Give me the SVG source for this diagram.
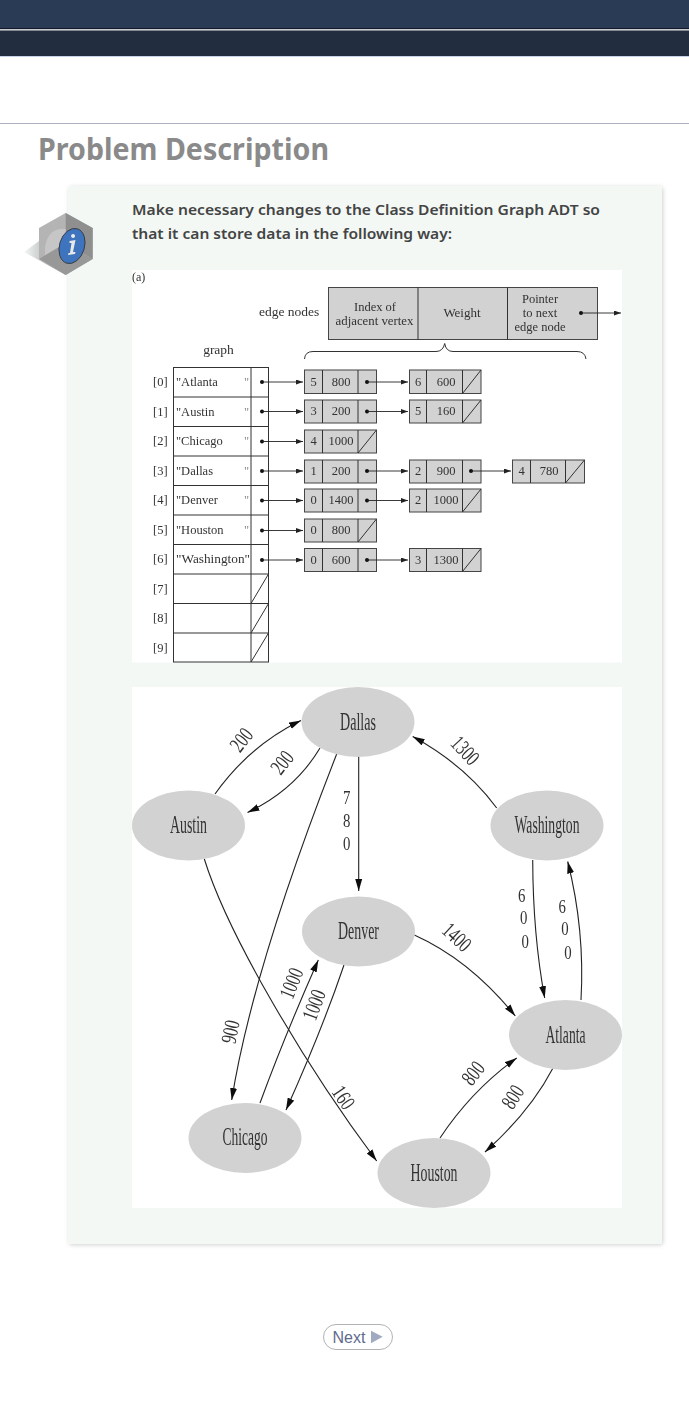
<svg xmlns="http://www.w3.org/2000/svg" width="689" height="1404" viewBox="0 0 689 1404">
<style>
.ser{font-family:"Liberation Serif",serif;fill:#333}
.t{font-size:12.5px}
.c{text-anchor:middle}
.box{fill:#d2d2d2;stroke:#444;stroke-width:1}
.cell{fill:#fff;stroke:#333;stroke-width:1}
.ln{fill:none;stroke:#333;stroke-width:1}
.ptr{fill:none;stroke:#222;stroke-width:.9;marker-end:url(#ah)}
.dot{fill:#111}
.el{fill:#d2d2d2}
.nm{font-size:25px;text-anchor:middle;fill:#333}
.lb{font-size:22px;text-anchor:middle;fill:#333}
.dg{font-size:19.5px;text-anchor:middle;fill:#333}
.e{fill:none;stroke:#222;stroke-width:1.1;marker-end:url(#gh)}
</style>
<defs>
<marker id="ah" markerUnits="userSpaceOnUse" markerWidth="8" markerHeight="6" refX="7" refY="2.5" orient="auto"><path d="M0,0L7,2.5L0,5z" fill="#222"/></marker>
<marker id="gh" markerUnits="userSpaceOnUse" markerWidth="14" markerHeight="10" refX="12" refY="4" orient="auto"><path d="M0,.5L12,4L0,7.500z" fill="#111"/></marker>
<filter id="soft" x="-2%" y="-2%" width="104%" height="104%"><feGaussianBlur stdDeviation="0.35"/></filter>
<filter id="sh" x="-3%" y="-3%" width="106%" height="106%"><feDropShadow dx="1" dy="1" stdDeviation="2" flood-color="#000" flood-opacity=".18"/></filter>
<linearGradient id="hs" x1="0" x2="1" y1="0" y2="0"><stop offset="0" stop-color="#f3f8f5"/><stop offset="1" stop-color="#888"/></linearGradient>
</defs>
<rect width="689" height="1404" fill="#fff"/>
<g id="header">
<rect width="689" height="28" fill="#2a3b55"/>
<rect y="28" width="689" height="1.2" fill="#111a26"/>
<rect y="29.2" width="689" height="1.3" fill="#c9cccf"/>
<rect y="30.5" width="689" height="25.5" fill="#222d40"/>
<rect y="56" width="689" height="1" fill="#c5d3e8"/>
<rect y="123" width="689" height="1" fill="#aab1bf"/>
</g>
<text id="title" x="38" y="160" font-family="'Noto Sans','Open Sans',sans-serif" font-size="31" font-weight="700" fill="#8a8a8a" textLength="291" lengthAdjust="spacingAndGlyphs">Problem Description</text>
<rect id="card" x="68" y="186" width="594" height="1058" rx="3" fill="#f3f8f5" filter="url(#sh)"/>
<g id="info-icon">
<path d="M24,252L39,241V259L65.700,275z" fill="url(#hs)"/>
<path d="M65.700,213L92.700,228V259L65.700,275L39,259V228z" fill="#b4b4b4"/>
<path d="M65.700,213L92.700,228V259L65.700,243z" fill="#8f8f8f"/>
<path d="M39,259L65.700,243L92.700,259L65.700,275z" fill="#989898"/>
<path d="M45,255V248Q47,231 60,229L65.700,229V243z" fill="#c6c6c6"/>
<ellipse cx="72" cy="246" rx="12.500" ry="18" transform="rotate(17 72 246)" fill="#3d74bd" stroke="#333" stroke-width=".8"/>
<path d="M73,234a2,2 0 1 0 .1,0zM69.500,241L75.500,240L73,252L75.500,252L75,254L68,255L68.500,253L70,253L71.500,243L69.500,243z" fill="#e8e8e8"/>
</g>
<g id="prompt" font-family="'Noto Sans','Open Sans',sans-serif" font-size="15" font-weight="600" fill="#444">
<text x="132" y="215" textLength="468" lengthAdjust="spacingAndGlyphs">Make necessary changes to the Class Definition Graph ADT so</text>
<text x="132" y="239" textLength="320" lengthAdjust="spacingAndGlyphs">that it can store data in the following way:</text>
</g>
<rect x="132" y="270" width="490" height="392.500" fill="#fff"/>
<rect x="132" y="687" width="490" height="521" fill="#fff"/>
<g id="figure-a" filter="url(#soft)">
<text class="ser" x="132" y="281" font-size="12">(a)</text>
<text class="ser" x="259" y="316" font-size="13.500">edge nodes</text>
<text class="ser c" x="218.500" y="354" font-size="13.500">graph</text>
<g id="legend">
<rect class="box" x="328.500" y="287.500" width="269" height="52"/>
<path class="ln" d="M418,287.500V339.500M507.500,287.500V339.500"/>
<text class="ser c t" x="375" y="311">Index of</text>
<text class="ser c" font-size="12.800" x="374.500" y="325">adjacent vertex</text>
<text class="ser c" font-size="13" x="462" y="317">Weight</text>
<text class="ser c t" x="540" y="303">Pointer</text>
<text class="ser c t" x="540" y="317">to next</text>
<text class="ser c t" x="540" y="331">edge node</text>
<circle class="dot" cx="581" cy="313" r="2"/>
<path class="ptr" d="M581,313H621"/>
</g>
<path id="brace" class="ln" stroke-width=".8" d="M304.500,359Q305,351.500 313,351.500H436Q443,351.500 444.700,343.500Q446,351.500 453,351.500H577Q585,351.500 586,359"/>
<g id="graph-table">
<rect class="cell" x="173.500" y="367.500" width="95" height="294.500"/>
<path class="ln" d="M251,367.500V662M173.500,397H268.500M173.500,426.500H268.500M173.500,456H268.500M173.500,485.500H268.500M173.500,515H268.500M173.500,544.500H268.500M173.500,574H268.500M173.500,603.500H268.500M173.500,633H268.500M251,603.500L268.500,574M251,633L268.500,603.500M251,662L268.500,633"/>
<g font-size="12.500" class="ser">
<text x="153" y="386">[0]</text><text x="153" y="415.500">[1]</text><text x="153" y="445">[2]</text><text x="153" y="474.500">[3]</text><text x="153" y="504">[4]</text><text x="153" y="533.500">[5]</text><text x="153" y="563">[6]</text><text x="153" y="592.500">[7]</text><text x="153" y="622">[8]</text><text x="153" y="651.500">[9]</text>
<text x="176" y="386">"Atlanta</text><text x="244" y="386" fill="#888">"</text>
<text x="176" y="415.500">"Austin</text><text x="244" y="415.500" fill="#888">"</text>
<text x="176" y="445">"Chicago</text><text x="244" y="445" fill="#888">"</text>
<text x="176" y="474.500">"Dallas</text><text x="244" y="474.500" fill="#888">"</text>
<text x="176" y="504">"Denver</text><text x="244" y="504" fill="#888">"</text>
<text x="176" y="533.500">"Houston</text><text x="244" y="533.500" fill="#888">"</text>
<text x="176" y="563" textLength="74" lengthAdjust="spacingAndGlyphs">"Washington"</text>
</g>
</g>
<g id="edge-list-0">
<rect class="box" x="304.500" y="370" width="72" height="23.500"/><path class="ln" d="M322.500,370V393.500M358,370V393.500"/>
<text class="ser c t" x="313.500" y="385.500">5</text><text class="ser c t" x="341" y="385.500">800</text>
<rect class="box" x="409.500" y="370" width="71.500" height="23.500"/><path class="ln" d="M426.500,370V393.500M462.500,370V393.500M462.500,393.500L481,370"/>
<text class="ser c t" x="418" y="385.500">6</text><text class="ser c t" x="446" y="385.500">600</text>
</g>
<g id="edge-list-1">
<rect class="box" x="304.500" y="400" width="72" height="23"/><path class="ln" d="M322.500,400V423M358,400V423"/>
<text class="ser c t" x="313.500" y="415">3</text><text class="ser c t" x="341" y="415">200</text>
<rect class="box" x="409.500" y="400" width="71.500" height="23"/><path class="ln" d="M426.500,400V423M462.500,400V423M462.500,423L481,400"/>
<text class="ser c t" x="418" y="415">5</text><text class="ser c t" x="446" y="415">160</text>
</g>
<g id="edge-list-2">
<rect class="box" x="304.500" y="430" width="72" height="23"/><path class="ln" d="M322.500,430V453M358,430V453M358,453L376.500,430"/>
<text class="ser c t" x="313.500" y="445">4</text><text class="ser c t" x="341" y="445">1000</text>
</g>
<g id="edge-list-3">
<rect class="box" x="304.500" y="460" width="72" height="23"/><path class="ln" d="M322.500,460V483M358,460V483"/>
<text class="ser c t" x="313.500" y="475">1</text><text class="ser c t" x="341" y="475">200</text>
<rect class="box" x="409.500" y="460" width="71.500" height="23"/><path class="ln" d="M426.500,460V483M462.500,460V483"/>
<text class="ser c t" x="418" y="475">2</text><text class="ser c t" x="446" y="475">900</text>
<rect class="box" x="512.500" y="460" width="72" height="23"/><path class="ln" d="M530.500,460V483M565.500,460V483M565.500,483L584.500,460"/>
<text class="ser c t" x="521.500" y="475">4</text><text class="ser c t" x="549" y="475">780</text>
</g>
<g id="edge-list-4">
<rect class="box" x="304.500" y="489" width="72" height="23"/><path class="ln" d="M322.500,489V512M358,489V512"/>
<text class="ser c t" x="313.500" y="504">0</text><text class="ser c t" x="341" y="504">1400</text>
<rect class="box" x="409.500" y="489" width="71.500" height="23"/><path class="ln" d="M426.500,489V512M462.500,489V512M462.500,512L481,489"/>
<text class="ser c t" x="418" y="504">2</text><text class="ser c t" x="446" y="504">1000</text>
</g>
<g id="edge-list-5">
<rect class="box" x="304.500" y="519" width="72" height="23"/><path class="ln" d="M322.500,519V542M358,519V542M358,542L376.500,519"/>
<text class="ser c t" x="313.500" y="534">0</text><text class="ser c t" x="341" y="534">800</text>
</g>
<g id="edge-list-6">
<rect class="box" x="304.500" y="548.500" width="72" height="23"/><path class="ln" d="M322.500,548.500V571.500M358,548.500V571.500"/>
<text class="ser c t" x="313.500" y="563.500">0</text><text class="ser c t" x="341" y="563.500">600</text>
<rect class="box" x="409.500" y="548.500" width="71.500" height="23"/><path class="ln" d="M426.500,548.500V571.500M462.500,548.500V571.500M462.500,571.500L481,548.500"/>
<text class="ser c t" x="418" y="563.500">3</text><text class="ser c t" x="446" y="563.500">1300</text>
</g>
<g id="pointers">
<g class="dot"><circle cx="262" cy="382" r="2"/><circle cx="262" cy="411.500" r="2"/><circle cx="262" cy="441.500" r="2"/><circle cx="262" cy="471" r="2"/><circle cx="262" cy="500.500" r="2"/><circle cx="262" cy="530.500" r="2"/><circle cx="262" cy="560" r="2"/>
<circle cx="367" cy="382" r="2"/><circle cx="367" cy="411.500" r="2"/><circle cx="367" cy="471" r="2"/><circle cx="367" cy="500.500" r="2"/><circle cx="367" cy="560" r="2"/><circle cx="471" cy="471" r="2"/></g>
<path class="ptr" d="M262,382H303"/><path class="ptr" d="M262,411.500H303"/><path class="ptr" d="M262,441.500H303"/><path class="ptr" d="M262,471H303"/><path class="ptr" d="M262,500.500H303"/><path class="ptr" d="M262,530.500H303"/><path class="ptr" d="M262,560H303"/>
<path class="ptr" d="M367,382H408"/><path class="ptr" d="M367,411.500H408"/><path class="ptr" d="M367,471H408"/><path class="ptr" d="M367,500.500H408"/><path class="ptr" d="M367,560H408"/><path class="ptr" d="M471,471H511"/>
</g>
</g>
<g id="figure-b" filter="url(#soft)">
<g id="connectors">
<path class="e" d="M215,794Q250,745 301,720.500"/>
<path class="e" d="M320,748Q295,790 247.500,812.500"/>
<path class="e" d="M336.700,754C305,835 250,985 231.700,1100"/>
<path class="e" d="M204.300,859C228,935 305,1065 376.700,1161"/>
<path class="e" d="M358.700,756V891"/>
<path class="e" d="M496.700,808Q465,765 412.700,736.500"/>
<path class="e" d="M532.700,860Q533,935 544.700,998"/>
<path class="e" d="M581,1000Q585,930 567.700,861.500"/>
<path class="e" d="M414.300,935Q470,960 515.300,1016"/>
<path class="e" d="M260,1103Q285,1035 318.300,960"/>
<path class="e" d="M344,965Q322,1030 286,1110"/>
<path class="e" d="M440,1138Q472,1090 516.700,1058"/>
<path class="e" d="M553,1068Q530,1112 485,1152"/>
</g>
<g id="node-dallas"><ellipse class="el" cx="358" cy="722" rx="56.500" ry="35"/><text class="ser nm" x="358" y="730" textLength="36" lengthAdjust="spacingAndGlyphs">Dallas</text></g>
<g id="node-austin"><ellipse class="el" cx="188.500" cy="825.500" rx="56.500" ry="35"/><text class="ser nm" x="188.500" y="833" textLength="37" lengthAdjust="spacingAndGlyphs">Austin</text></g>
<g id="node-washington"><ellipse class="el" cx="547" cy="825.500" rx="56.500" ry="35"/><text class="ser nm" x="547" y="833" textLength="65" lengthAdjust="spacingAndGlyphs">Washington</text></g>
<g id="node-denver"><ellipse class="el" cx="358.500" cy="931.500" rx="56.500" ry="35"/><text class="ser nm" x="358.500" y="939" textLength="41" lengthAdjust="spacingAndGlyphs">Denver</text></g>
<g id="node-atlanta"><ellipse class="el" cx="565.500" cy="1035" rx="56.500" ry="35"/><text class="ser nm" x="565.500" y="1043" textLength="40" lengthAdjust="spacingAndGlyphs">Atlanta</text></g>
<g id="node-chicago"><ellipse class="el" cx="245" cy="1138" rx="56.500" ry="35"/><text class="ser nm" x="245" y="1145" textLength="45" lengthAdjust="spacingAndGlyphs">Chicago</text></g>
<g id="node-houston"><ellipse class="el" cx="434" cy="1173" rx="56.500" ry="35"/><text class="ser nm" x="434" y="1181" textLength="47" lengthAdjust="spacingAndGlyphs">Houston</text></g>
<g id="edge-labels" class="ser">
<text class="lb" transform="translate(241.700 740) rotate(-52) scale(.7 1)" y="7">200</text>
<text class="lb" transform="translate(282.300 762.700) rotate(-52) scale(.7 1)" y="7">200</text>
<text class="dg" transform="translate(346.700 804.300) scale(.76 1)"><tspan x="0" y="0">7</tspan><tspan x="0" y="23">8</tspan><tspan x="0" y="46">0</tspan></text>
<text class="lb" transform="translate(465 750.700) rotate(47) scale(.7 1)" y="7">1300</text>
<text class="lb" transform="translate(456.700 937.300) rotate(43) scale(.7 1)" y="7">1400</text>
<text class="dg" transform="translate(521.700 901.600) scale(.76 1)"><tspan x="0" y="0">6</tspan><tspan x="2.600" y="22">0</tspan><tspan x="4.700" y="46">0</tspan></text>
<text class="dg" transform="translate(562.300 912.600) scale(.76 1)"><tspan x="0" y="0">6</tspan><tspan x="3.600" y="22">0</tspan><tspan x="7.500" y="46">0</tspan></text>
<text class="lb" transform="translate(291.700 983.300) rotate(-68) scale(.7 1)" y="7">1000</text>
<text class="lb" transform="translate(314.300 1005) rotate(-70) scale(.7 1)" y="7">1000</text>
<text class="lb" transform="translate(230.700 1031.700) rotate(-78) scale(.7 1)" y="7">900</text>
<text class="lb" transform="translate(343.300 1097.700) rotate(56) scale(.7 1)" y="7">160</text>
<text class="lb" transform="translate(473.300 1073.300) rotate(-52) scale(.7 1)" y="7">800</text>
<text class="lb" transform="translate(513 1097) rotate(-58) scale(.7 1)" y="7">800</text>
</g>
</g>
<g id="next-button">
<rect x="323.500" y="1324.500" width="69" height="25" rx="12.500" fill="#fff" stroke="#b3b3b3"/>
<text x="332.500" y="1343" font-family="'Liberation Sans',sans-serif" font-size="16" fill="#5f6b8c">Next</text>
<path d="M371,1330.700L382.700,1336.800L371,1343.300z" fill="#a0aac0"/>
</g>
</svg>
